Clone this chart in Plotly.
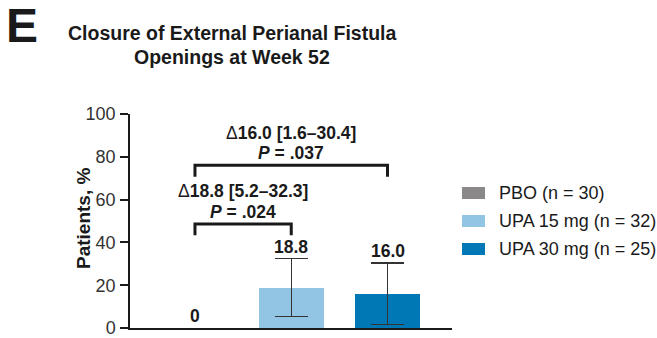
import plotly.graph_objects as go

# Treatment groups and week-52 closure rates (% of patients)
groups = ["PBO (n = 30)", "UPA 15 mg (n = 32)", "UPA 30 mg (n = 25)"]
rates = [0.0, 18.8, 16.0]
ci_low = [None, 5.2, 1.6]
ci_high = [None, 32.3, 30.4]
colors = ["#8a8889", "#92c5e3", "#0078b5"]

# Comparisons against placebo: (from index, to index, delta, CI low, CI high, p)
comp_from = [0, 0]
comp_to = [1, 2]
comp_delta = [18.8, 16.0]
comp_lo = [5.2, 1.6]
comp_hi = [32.3, 30.4]
comp_p = [".024", ".037"]
bracket_top = [48.6, 76.0]

y_ticks = [0, 20, 40, 60, 80, 100]

W, H = 657, 338
L, R, T, B = 130, 205, 114, 10
PW, PH = W - L - R, H - T - B


def px(x):
    return (x - L) / PW


def py(y):
    return (H - B - y) / PH


TXT = "#1a1a1a"
FONT = "Liberation Sans, Arial, sans-serif"

xs = list(range(len(groups)))
fig = go.Figure()
for i in xs:
    has_err = ci_high[i] is not None
    fig.add_trace(go.Bar(
        x=[i], y=[rates[i]], width=0.68,
        marker=dict(color=colors[i], line=dict(width=0)),
        error_y=dict(
            type="data", symmetric=False,
            array=[ci_high[i] - rates[i] if has_err else 0],
            arrayminus=[rates[i] - ci_low[i] if has_err else 0],
            visible=has_err, color="#333333", thickness=1.2, width=16.5,
        ),
        showlegend=False, hoverinfo="skip",
    ))

annotations = []
shapes = []

# value labels
for i in xs:
    top = ci_high[i] if ci_high[i] is not None else rates[i]
    label = f"{rates[i]:.1f}" if rates[i] != 0 else "0"
    annotations.append(dict(
        x=i, y=top, xref="x", yref="y", text=f"<b>{label}</b>",
        showarrow=False, yanchor="bottom", yshift=0,
        font=dict(size=17.5, color=TXT, family=FONT),
    ))

# significance brackets
leg = 5.3
for k in range(len(comp_from)):
    a, b = comp_from[k], comp_to[k]
    yt = bracket_top[k]
    shapes.append(dict(
        type="path", xref="x", yref="y",
        path=f"M {a} {yt - leg} L {a} {yt} L {b} {yt} L {b} {yt - leg}",
        line=dict(color=TXT, width=3),
    ))
    mid = (a + b) / 2
    annotations.append(dict(
        x=mid, y=yt + 15.2, xref="x", yref="y",
        text=(f"\u0394<b>{comp_delta[k]:.1f} [{comp_lo[k]:.1f}\u2013{comp_hi[k]:.1f}]</b>"),
        showarrow=False, yanchor="middle",
        font=dict(size=17.5, color=TXT, family=FONT),
    ))
    annotations.append(dict(
        x=mid, y=yt + 5.8, xref="x", yref="y",
        text=f"<b><i>P</i> = {comp_p[k]}</b>",
        showarrow=False, yanchor="middle",
        font=dict(size=17.5, color=TXT, family=FONT),
    ))

# legend
for i, g in enumerate(groups):
    cy = 193 + 28 * i
    shapes.append(dict(
        type="rect", xref="paper", yref="paper",
        x0=px(462), x1=px(485), y0=py(cy + 6), y1=py(cy - 6),
        fillcolor=colors[i], line=dict(width=0),
    ))
    annotations.append(dict(
        x=px(497), y=py(cy), xref="paper", yref="paper", text=g,
        showarrow=False, xanchor="left", yanchor="middle",
        font=dict(size=18, color=TXT, family=FONT),
    ))

# y-axis title
annotations.append(dict(
    x=px(83), y=py(219), xref="paper", yref="paper", text="<b>Patients, %</b>",
    textangle=-90, showarrow=False, xanchor="center", yanchor="middle",
    font=dict(size=19, color=TXT, family=FONT),
))

# panel letter and title
annotations.append(dict(
    x=px(4), y=py(26), xref="paper", yref="paper", text="<b>E</b>",
    showarrow=False, xanchor="left", yanchor="middle",
    font=dict(size=48, color=TXT, family=FONT),
))
for line, cy in [("Closure of External Perianal Fistula", 33), ("Openings at Week 52", 57)]:
    annotations.append(dict(
        x=px(232), y=py(cy), xref="paper", yref="paper", text=f"<b>{line}</b>",
        showarrow=False, xanchor="center", yanchor="middle",
        font=dict(size=19.5, color=TXT, family=FONT),
    ))

fig.update_layout(
    width=W, height=H,
    margin=dict(l=L, r=R, t=T, b=B, pad=0, autoexpand=False),
    paper_bgcolor="white", plot_bgcolor="white",
    annotations=annotations, shapes=shapes,
    bargap=0,
    xaxis=dict(
        range=[-0.675, 2.67], showticklabels=False, ticks="",
        showgrid=False, zeroline=False, showline=True, automargin=False,
        linecolor=TXT, linewidth=2, fixedrange=True,
    ),
    yaxis=dict(
        range=[0, 100], tickvals=y_ticks, ticks="outside", ticklen=8,
        tickwidth=1.5, tickcolor=TXT, showgrid=False, zeroline=False,
        showline=True, linecolor=TXT, linewidth=1.5, automargin=False,
        tickfont=dict(size=18, color="#333333", family=FONT),
        ticklabelstandoff=1, ticklabeloverflow="allow",
        fixedrange=True,
    ),
    font=dict(family=FONT, color=TXT),
)

fig.write_html("out.html")
